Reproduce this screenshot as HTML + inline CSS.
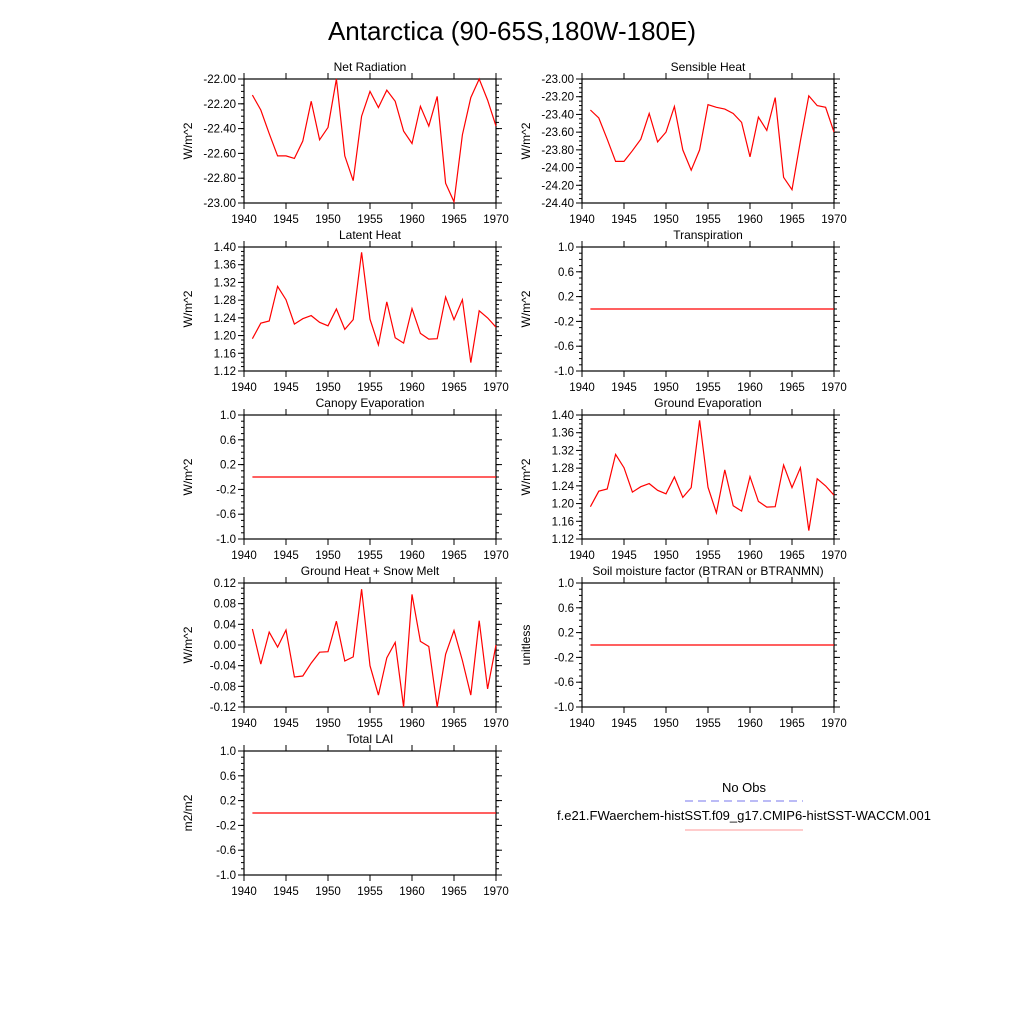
<!DOCTYPE html>
<html><head><meta charset="utf-8"><style>
body{margin:0;background:#fff;}
svg text{font-family:"Liberation Sans",sans-serif;fill:#000;}
</style></head><body>
<svg id="fig" width="1024" height="1024" xmlns="http://www.w3.org/2000/svg">
<rect width="1024" height="1024" fill="#fff"/>
<text x="512" y="40" font-size="26" text-anchor="middle">Antarctica (90-65S,180W-180E)</text>
<g>
<text x="744" y="792" font-size="13" text-anchor="middle">No Obs</text>
<line x1="685" y1="801" x2="803" y2="801" stroke="#7777ee" stroke-width="1" stroke-dasharray="8,5"/>
<text x="744" y="820" font-size="13" text-anchor="middle">f.e21.FWaerchem-histSST.f09_g17.CMIP6-histSST-WACCM.001</text>
<line x1="685" y1="830" x2="803" y2="830" stroke="#f99" stroke-width="1"/>
</g>
</svg>
<script>
const years = [];
for (let y = 1941; y <= 1970; y++) years.push(y);
const netRad = [-22.13,-22.25,-22.44,-22.62,-22.62,-22.64,-22.50,-22.18,-22.49,-22.39,-22.00,-22.62,-22.82,-22.30,-22.10,-22.23,-22.09,-22.18,-22.42,-22.52,-22.22,-22.38,-22.14,-22.84,-22.99,-22.45,-22.15,-22.00,-22.17,-22.38];
const sensible = [-23.35,-23.44,-23.68,-23.93,-23.93,-23.81,-23.68,-23.39,-23.71,-23.60,-23.31,-23.80,-24.03,-23.80,-23.29,-23.32,-23.34,-23.39,-23.49,-23.88,-23.43,-23.58,-23.21,-24.11,-24.25,-23.70,-23.19,-23.30,-23.32,-23.60];
const latent = [1.193,1.228,1.233,1.311,1.281,1.226,1.238,1.245,1.230,1.222,1.260,1.214,1.236,1.388,1.237,1.179,1.276,1.195,1.183,1.261,1.205,1.192,1.193,1.287,1.236,1.281,1.139,1.256,1.240,1.219];
const groundEvap = [1.193,1.228,1.233,1.311,1.281,1.226,1.238,1.245,1.230,1.222,1.260,1.214,1.236,1.388,1.237,1.179,1.276,1.195,1.183,1.261,1.205,1.192,1.193,1.287,1.236,1.281,1.139,1.256,1.240,1.219];
const groundHeat = [0.031,-0.037,0.025,-0.004,0.029,-0.062,-0.060,-0.035,-0.014,-0.013,0.046,-0.031,-0.023,0.108,-0.040,-0.097,-0.025,0.005,-0.120,0.098,0.007,-0.003,-0.120,-0.018,0.028,-0.030,-0.097,0.047,-0.085,0.000];
const zeros = years.map(()=>0);
const xTicks = [1940,1945,1950,1955,1960,1965,1970];

const NS="http://www.w3.org/2000/svg";
const svg=document.getElementById('fig');
function mk(tag,attrs,parent){const e=document.createElementNS(NS,tag);for(const k in attrs)e.setAttribute(k,attrs[k]);(parent||svg).appendChild(e);return e;}

function panel(key,title,ylab,x0,y0,data,ymin,ymax,major,minor,dec){
  const w=252,h=124;
  const g=mk('g',{});
  
  
  const sx=v=>x0+(v-1940)/30*w;
  const sy=v=>y0+h-(v-ymin)/(ymax-ymin)*h;
  const t=mk('text',{x:x0+w/2,y:y0-8,'font-size':12,'text-anchor':'middle'},g);
  t.textContent=title;
  
  
  const yl=mk('text',{x:0,y:0,'font-size':12,'text-anchor':'middle',transform:`translate(${x0-52},${y0+h/2}) rotate(-90)`},g);
  yl.textContent=ylab;
  
  
  // minor y ticks
  const nMin=Math.round((ymax-ymin)/minor);
  for(let i=0;i<=nMin;i++){const v=ymin+i*minor;const y=sy(v);
    mk('line',{x1:x0-3,y1:y,x2:x0,y2:y,stroke:'#000','stroke-width':1},g);
    mk('line',{x1:x0+w,y1:y,x2:x0+w+3,y2:y,stroke:'#000','stroke-width':1},g);}
  const nMaj=Math.round((ymax-ymin)/major);
  for(let i=0;i<=nMaj;i++){const v=ymin+i*major;const y=sy(v);
    if(v<ymin-1e-9||v>ymax+1e-9)continue;
    mk('line',{x1:x0-6,y1:y,x2:x0,y2:y,stroke:'#000','stroke-width':1},g);
    mk('line',{x1:x0+w,y1:y,x2:x0+w+6,y2:y,stroke:'#000','stroke-width':1},g);
    const lb=mk('text',{x:x0-8,y:y+4,'font-size':11.5,'text-anchor':'end'},g);
    lb.textContent=(Math.abs(v)<1e-9?0:v).toFixed(dec);
    
    }
  xTicks.forEach(v=>{const x=sx(v);
    mk('line',{x1:x,y1:y0+h,x2:x,y2:y0+h+6,stroke:'#000','stroke-width':1},g);
    mk('line',{x1:x,y1:y0-6,x2:x,y2:y0,stroke:'#000','stroke-width':1},g);
    const lb=mk('text',{x:x,y:y0+h+20,'font-size':11.5,'text-anchor':'middle'},g);
    lb.textContent=v;
    
    });
  const fr=mk('rect',{x:x0,y:y0,width:w,height:h,fill:'none',stroke:'#000','stroke-width':1.2},g);
  
  
  const pts=data.map((v,i)=>sx(years[i]).toFixed(1)+','+sy(v).toFixed(1)).join(' ');
  const pl=mk('polyline',{points:pts,fill:'none',stroke:'#f00','stroke-width':1.2},g);
  
  
}
const L=244,R=582;
panel('net-radiation','Net Radiation','W/m^2',L,79,netRad,-23,-22,0.2,0.05,2);
panel('sensible-heat','Sensible Heat','W/m^2',R,79,sensible,-24.4,-23,0.2,0.05,2);
panel('latent-heat','Latent Heat','W/m^2',L,247,latent,1.12,1.40,0.04,0.01,2);
panel('transpiration','Transpiration','W/m^2',R,247,zeros,-1,1,0.4,0.1,1);
panel('canopy-evaporation','Canopy Evaporation','W/m^2',L,415,zeros,-1,1,0.4,0.1,1);
panel('ground-evaporation','Ground Evaporation','W/m^2',R,415,groundEvap,1.12,1.40,0.04,0.01,2);
panel('ground-heat','Ground Heat + Snow Melt','W/m^2',L,583,groundHeat,-0.12,0.12,0.04,0.01,2);
panel('soil-moisture','Soil moisture factor (BTRAN or BTRANMN)','unitless',R,583,zeros,-1,1,0.4,0.1,1);
panel('total-lai','Total LAI','m2/m2',L,751,zeros,-1,1,0.4,0.1,1);
</script>
</body></html>
